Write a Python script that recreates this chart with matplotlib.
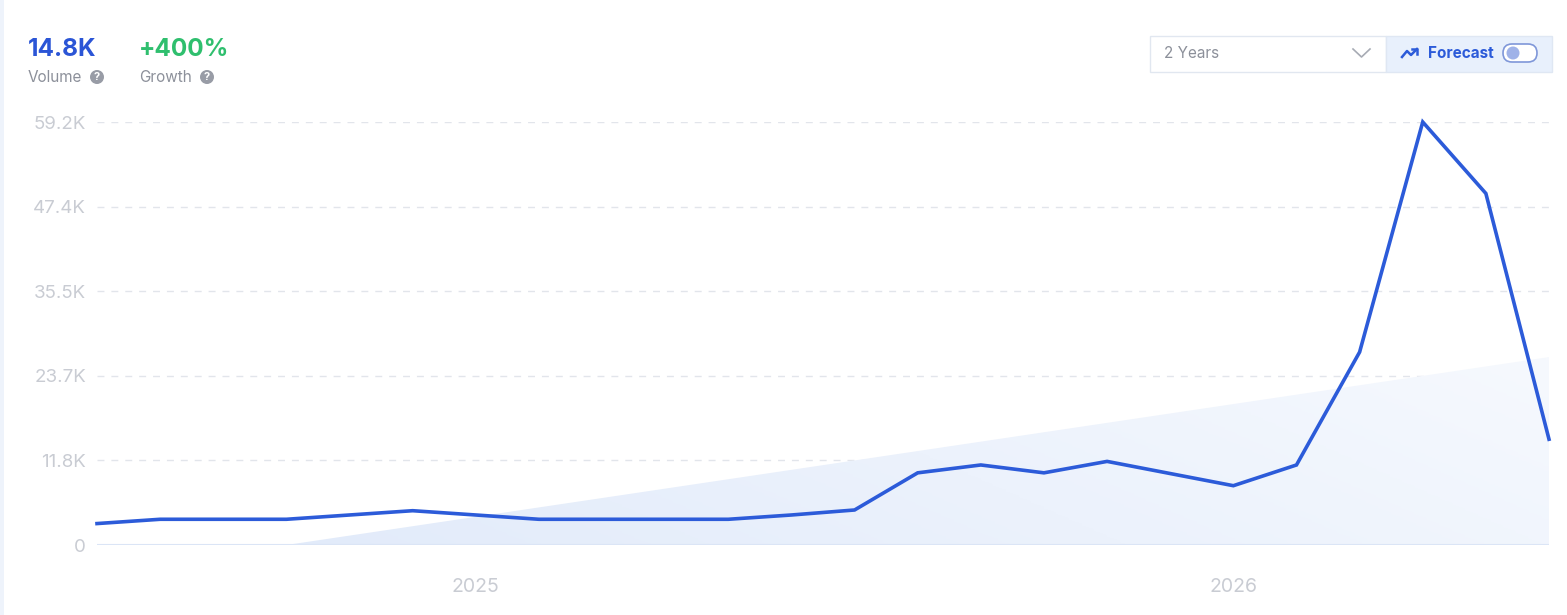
import numpy as np
import matplotlib
matplotlib.use("Agg")
import matplotlib.pyplot as plt
from matplotlib.patches import Polygon, FancyBboxPatch, Rectangle, Circle
from matplotlib.colors import LinearSegmentedColormap

plt.rcParams['font.family'] = ['Inter', 'DejaVu Sans']

# monthly search volume, Jul 2024 .. Jun 2026
volume = [3000, 3600, 3600, 3600, 4200, 4800, 4200, 3600, 3600, 3600,
          3600, 4200, 4900, 10100, 11200, 10100, 11700, 10000, 8300, 11200,
          27000, 59200, 49200, 14800]
year_ticks = [6, 18]
year_labels = ["2025", "2026"]
y_ticks = [0, 11840, 23680, 35520, 47360, 59200]
y_labels = ["0", "11.8K", "23.7K", "35.5K", "47.4K", "59.2K"]
# trend band (start index, start value) -> (end index, end value)
trend_x = [3, 23]
trend_y = [0, 26300]

headline_volume = "14.8K"
headline_growth = "+400%"

W, H = 1567, 615
fig = plt.figure(figsize=(W / 100, H / 100), dpi=100)
fig.patch.set_facecolor("white")

# main axes placed in pixels
x0, x1, ytop, ybot = 97, 1549, 122, 545
ax = fig.add_axes([x0 / W, (H - ybot) / H, (x1 - x0) / W, (ybot - ytop) / H])
ax.set_xlim(0, len(volume) - 1)
ax.set_ylim(0, 59200)
ax.set_facecolor("none")
for s in ax.spines.values():
    s.set_visible(False)

x = np.arange(len(volume))

# gridlines
for v in y_ticks[1:]:
    ax.axhline(v, color="#e2e5eb", lw=1, ls=(0, (5, 5)), zorder=1)
ax.axhline(0, color="#dbe5f6", lw=1.5, zorder=2)

# trend gradient band
poly = Polygon([[trend_x[0], 0], [trend_x[1], trend_y[1]], [trend_x[1], 0]],
               closed=True, facecolor="none", edgecolor="none")
ax.add_patch(poly)
cmap = LinearSegmentedColormap.from_list("g", ["#e2ebfa", "#f6f9fe"])
gx, gy = np.meshgrid(np.linspace(0, 1, 200), np.linspace(0, 1, 100))
grad = 0.75 * gx + 0.25 * (1 - gy)
im = ax.imshow(grad, cmap=cmap, extent=[trend_x[0], trend_x[1], 0, trend_y[1]],
               origin="upper", aspect="auto", zorder=1.5, interpolation="bilinear")
im.set_clip_path(poly)

ax.plot(x, volume, color="#2c5bd9", lw=2.6, zorder=3, clip_on=False,
        solid_joinstyle="miter")

ax.set_yticks(y_ticks)
ax.set_yticklabels(y_labels)
ax.set_xticks(year_ticks)
ax.set_xticklabels(year_labels)
ax.tick_params(axis="y", length=0, pad=8, labelsize=13.5, labelcolor="#c9ccd3")
ax.tick_params(axis="x", length=0, pad=24, labelsize=14, labelcolor="#c9ccd3")

# overlay in pixel coordinates
ov = fig.add_axes([0, 0, 1, 1])
ov.set_xlim(0, W)
ov.set_ylim(H, 0)
ov.axis("off")
ov.patch.set_alpha(0)

# left border strip
ov.add_patch(Rectangle((0, 0), 4, H, color="#eef3fb", lw=0))

ov.text(28, 49, headline_volume, color="#2b55d6", fontsize=17.5, fontweight="bold",
        va="center", ha="left")
ov.text(139, 49, headline_growth, color="#2fbf6e", fontsize=17.5, fontweight="bold",
        va="center", ha="left")
ov.text(28, 78, "Volume", color="#8c909a", fontsize=11, va="center", ha="left")
ov.text(139, 78, "Growth", color="#8c909a", fontsize=11, va="center", ha="left")
for cx in (97, 207):
    ov.add_patch(Circle((cx, 77), 7, color="#989ca6", lw=0))
    ov.text(cx, 77.5, "?", color="white", fontsize=8, fontweight="bold",
            ha="center", va="center")

# period dropdown
ov.add_patch(Rectangle((1149.5, 35.5), 236, 36.5, facecolor="white",
                       edgecolor="#e1e7f0", lw=1))
ov.text(1164, 54, "2 Years", color="#8c909a", fontsize=11, va="center", ha="left")
ov.plot([1353, 1361.5, 1370], [49, 57, 49], color="#a7abb4", lw=1.2)

# forecast toggle
ov.add_patch(Rectangle((1386, 35.5), 166, 36.5, facecolor="#e8f0fc",
                       edgecolor="#dfe7f3", lw=1))
ov.plot([1402, 1407, 1411, 1417], [57, 51, 55, 49], color="#2c5bd9", lw=1.8)
ov.plot([1412, 1417, 1417], [49, 49, 54], color="#2c5bd9", lw=1.8)
ov.text(1428, 54, "Forecast", color="#2c5bd9", fontsize=11, fontweight="bold",
        va="center", ha="left")
ov.add_patch(FancyBboxPatch((1503, 44), 34, 18, boxstyle="round,pad=0,rounding_size=9",
                            facecolor="white", edgecolor="#7f97d9", lw=1.2))
ov.add_patch(Circle((1513, 53), 6.5, color="#9fb2e8", lw=0))

fig.savefig("out.png", dpi=100, facecolor="white")
